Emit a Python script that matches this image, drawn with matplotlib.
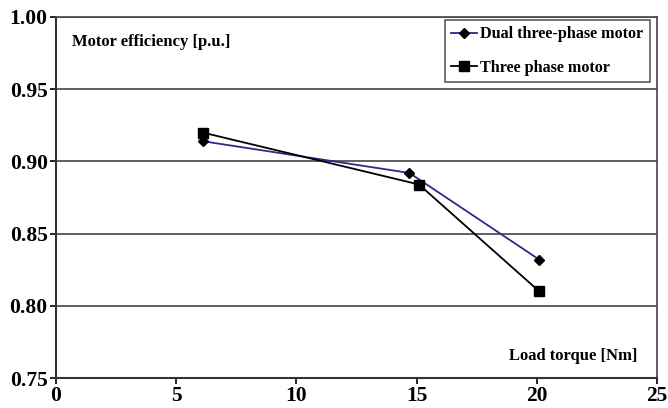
import matplotlib
matplotlib.use('Agg')
import matplotlib.pyplot as plt

# Data
dual_torque = [6.1, 14.7, 20.1]
dual_eff = [0.914, 0.892, 0.832]
three_torque = [6.1, 15.1, 20.1]
three_eff = [0.920, 0.884, 0.810]

x_ticks = [0, 5, 10, 15, 20, 25]
y_ticks = [0.75, 0.80, 0.85, 0.90, 0.95, 1.00]

plt.rcParams['font.family'] = ['Liberation Serif', 'DejaVu Serif']
plt.rcParams['font.weight'] = 'bold'

fig = plt.figure(figsize=(6.68, 4.08), dpi=100)
ax = fig.add_axes([56 / 668, 1 - 378 / 408, 601 / 668, 361 / 408])

ax.plot(dual_torque, dual_eff, color='#2a2a8a', lw=1.3, marker='D', ms=5,
        mfc='black', mec='black', label='Dual three-phase motor')
ax.plot(three_torque, three_eff, color='black', lw=1.3, marker='s', ms=6.5,
        mfc='black', mec='black', label='Three phase motor')

ax.set_xlim(0, 25)
ax.set_ylim(0.75, 1.00)
ax.set_xticks(x_ticks)
ax.set_yticks(y_ticks)
ax.set_xticklabels([str(t) for t in x_ticks])
ax.set_yticklabels([f'{t:.2f}' for t in y_ticks])
ax.tick_params(labelsize=15.5, length=4, width=1.2, direction='out', pad=2)
for lab in ax.get_xticklabels() + ax.get_yticklabels():
    lab.set_fontweight('bold')

ax.yaxis.grid(True, color='#444444', lw=1.2)
ax.set_axisbelow(True)
for side in ['left', 'bottom']:
    ax.spines[side].set_linewidth(1.5)
    ax.spines[side].set_color('#333333')
for side in ['top', 'right']:
    ax.spines[side].set_linewidth(1.2)
    ax.spines[side].set_color('#444444')

ax.text(0.027, 0.93, 'Motor efficiency [p.u.]', transform=ax.transAxes,
        fontsize=12, fontweight='bold', va='center')
ax.text(0.968, 0.06, 'Load torque [Nm]', transform=ax.transAxes,
        fontsize=12, fontweight='bold', ha='right', va='center')

leg = ax.legend(loc='upper right', bbox_to_anchor=(0.988, 0.992), fontsize=11.6,
                frameon=True, fancybox=False, edgecolor='#333333',
                handlelength=1.6, handletextpad=0.2, borderpad=0.4,
                borderaxespad=0, labelspacing=1.1)
leg.get_frame().set_linewidth(1.2)
leg._legend_box.sep = 0
for t in leg.get_texts():
    t.set_fontweight('bold')

fig.savefig('out.png', dpi=100)
